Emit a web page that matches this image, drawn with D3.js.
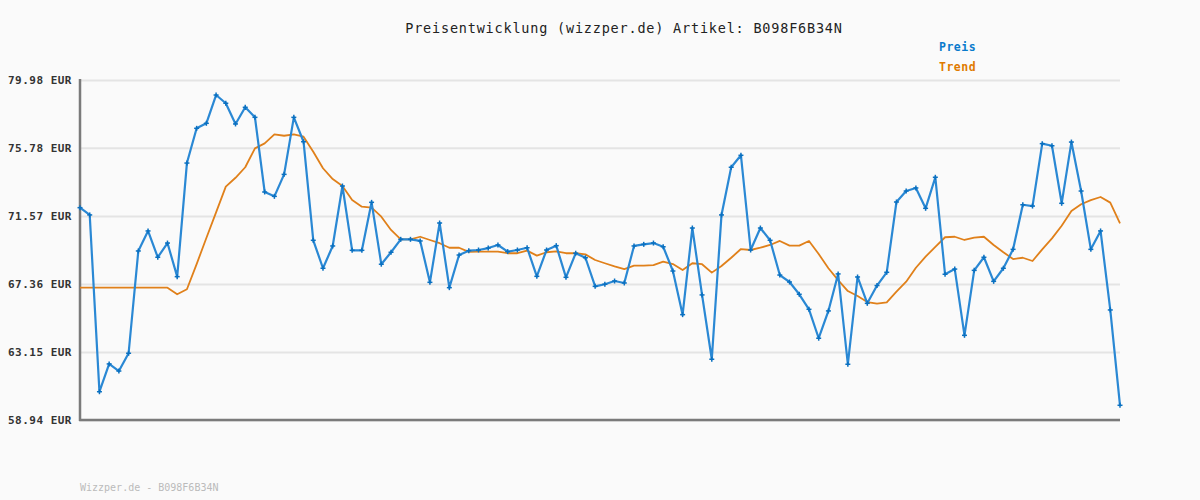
<!DOCTYPE html>
<html><head><meta charset="utf-8">
<script src="https://cdn.jsdelivr.net/npm/d3@7"></script>
<style>
html,body{margin:0;padding:0;background:#fafafa;}
svg{display:block;}
text{font-family:"DejaVu Sans Mono",monospace;}
</style></head>
<body><svg id="c" width="1200" height="500"></svg>
<script>
const title = "Preisentwicklung (wizzper.de) Artikel: B098F6B34N";
const footer = "Wizzper.de - B098F6B34N";
const yTicks = [58.94, 63.15, 67.36, 71.57, 75.78, 79.98];
const seriesNames = ["Preis", "Trend"];
const preis = [72.08,71.63,60.69,62.41,61.97,63.07,69.40,70.64,69.01,69.89,
67.81,74.84,76.99,77.30,79.05,78.54,77.26,78.29,77.67,73.05,
72.78,74.14,77.67,76.16,70.06,68.33,69.71,73.42,69.44,69.44,
72.41,68.58,69.32,70.12,70.12,70.02,67.46,71.13,67.13,69.15,
69.42,69.46,69.58,69.77,69.36,69.46,69.60,67.83,69.46,69.73,
67.77,69.26,68.98,67.21,67.34,67.54,67.42,69.71,69.81,69.89,
69.66,68.16,65.46,70.82,66.68,62.70,71.63,74.58,75.32,69.46,
70.82,70.06,67.91,67.48,66.72,65.79,64.00,65.69,67.98,62.39,
67.79,66.16,67.26,68.08,72.43,73.11,73.30,72.04,73.96,67.96,
68.28,64.18,68.20,69.01,67.52,68.33,69.50,72.26,72.18,76.04,
75.91,72.35,76.14,73.11,69.50,70.64,65.75,59.85];
const trend = [67.13,67.13,67.13,67.13,67.13,67.13,67.13,67.13,67.13,67.13,
66.72,67.03,68.59,70.20,71.79,73.38,73.93,74.58,75.75,76.06,
76.62,76.53,76.62,76.47,75.54,74.52,73.85,73.42,72.55,72.14,
72.08,71.52,70.70,70.12,70.12,70.28,70.08,69.88,69.60,69.60,
69.34,69.36,69.36,69.36,69.26,69.26,69.42,69.11,69.32,69.38,
69.26,69.26,69.19,68.84,68.64,68.45,68.28,68.49,68.49,68.53,
68.74,68.59,68.22,68.64,68.58,68.06,68.47,68.98,69.52,69.46,
69.60,69.77,70.02,69.73,69.73,70.02,69.21,68.33,67.60,66.92,
66.61,66.24,66.14,66.22,66.88,67.50,68.36,69.05,69.66,70.25,
70.28,70.08,70.22,70.28,69.77,69.32,68.90,68.98,68.78,69.50,
70.18,70.96,71.87,72.29,72.55,72.74,72.39,71.11];

const svg = d3.select("#c");
const W = 1200, H = 500;
const m = {l:80, r:80, t:80, b:80};
const x = d3.scaleLinear().domain([0, preis.length-1]).range([m.l, W-m.r]);
const y = d3.scaleLinear().domain([58.94, 79.98]).range([H-m.b, m.t]);

svg.append("rect").attr("width",W).attr("height",H).attr("fill","#fafafa");

// grid
const grid = svg.append("g").call(d3.axisLeft(y).tickValues(yTicks).tickSize(-(W-m.l-m.r)).tickFormat(""))
  .attr("transform",`translate(${m.l},0)`);
grid.select(".domain").remove();
grid.selectAll("line").attr("stroke","#e4e4e4").attr("stroke-width",2);

// y labels
const ya = svg.append("g").attr("transform",`translate(${m.l},0)`)
  .call(d3.axisLeft(y).tickValues(yTicks).tickSize(0).tickPadding(8).tickFormat(d => d.toFixed(2) + " EUR"));
ya.select(".domain").remove();
ya.selectAll("text").attr("font-family","'DejaVu Sans Mono',monospace").attr("font-size",11)
  .attr("font-weight","bold").attr("fill","#333").attr("letter-spacing","0.5px").attr("dy","0.35em");

// axis lines
svg.append("line").attr("x1",m.l).attr("x2",m.l).attr("y1",m.t-1).attr("y2",H-m.b+1)
  .attr("stroke","#7a7a7a").attr("stroke-width",2.5);
svg.append("line").attr("x1",m.l-1).attr("x2",W-m.r).attr("y1",H-m.b).attr("y2",H-m.b)
  .attr("stroke","#7a7a7a").attr("stroke-width",2.5);

const line = d3.line().x((d,i)=>x(i)).y(d=>y(d));
svg.append("path").datum(trend).attr("d",line).attr("fill","none")
  .attr("stroke","#e0801a").attr("stroke-width",1.8).attr("stroke-linejoin","round");
svg.append("path").datum(preis).attr("d",line).attr("fill","none")
  .attr("stroke","#2a88d4").attr("stroke-width",2.2).attr("stroke-linejoin","round");

// markers (+)
const mk = svg.append("g").attr("stroke","#0a70c0").attr("stroke-width",1.5);
preis.forEach((v,i)=>{
  const cx=x(i), cy=y(v);
  mk.append("line").attr("x1",cx-2.5).attr("x2",cx+2.5).attr("y1",cy).attr("y2",cy);
  mk.append("line").attr("x1",cx).attr("x2",cx).attr("y1",cy-2.5).attr("y2",cy+2.5);
});

// title
svg.append("text").attr("x",624).attr("y",33).attr("text-anchor","middle")
  .attr("font-size",13.5).attr("letter-spacing","0.8px").attr("fill","#222").text(title);

// legend
const legColors = ["#0a7acc","#e07a00"];
seriesNames.forEach((n,i)=>{
  svg.append("text").attr("x",939).attr("y",51+i*20).attr("font-size",11.5)
    .attr("font-weight","bold").attr("letter-spacing","0.5px").attr("fill",legColors[i]).text(n);
});

// footer
svg.append("text").attr("x",80).attr("y",491).attr("font-size",10).attr("fill","#bbbbbb").text(footer);
</script></body></html>
